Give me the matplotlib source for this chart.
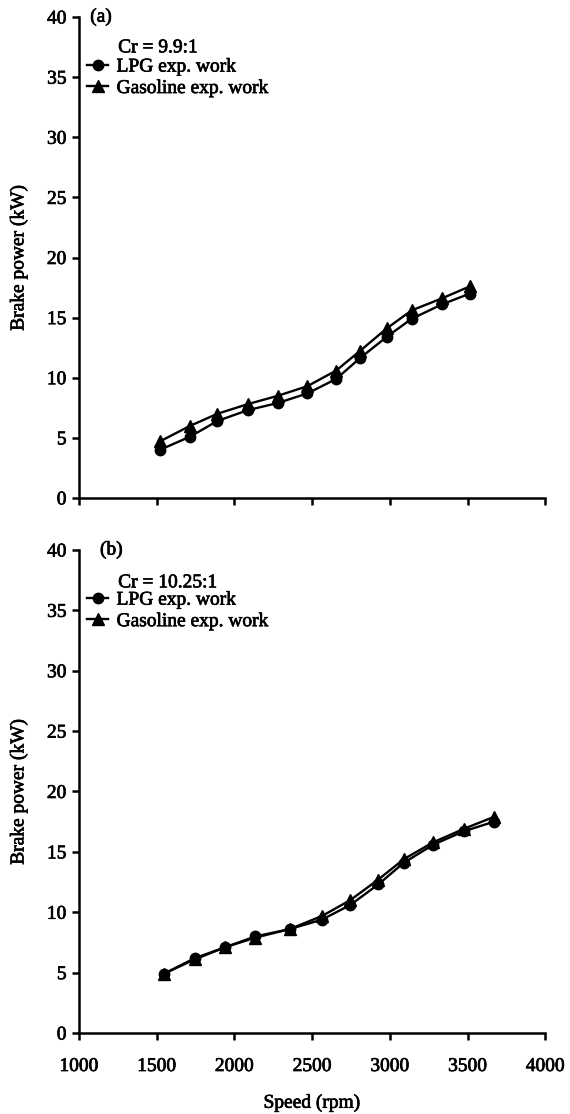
import numpy as np
import matplotlib.pyplot as plt
import matplotlib.patheffects as pe

# brake power vs speed, two compression ratios
speed_a = [1520, 1715, 1890, 2085, 2280, 2470, 2655, 2805, 2980, 3140, 3335, 3515]
lpg_a = [4.0, 5.1, 6.4, 7.3, 7.9, 8.7, 9.9, 11.6, 13.4, 14.9, 16.1, 17.0]
gas_a = [4.7, 6.0, 7.0, 7.8, 8.5, 9.3, 10.6, 12.2, 14.1, 15.6, 16.6, 17.6]

speed_b = [1545, 1745, 1940, 2135, 2355, 2565, 2745, 2925, 3090, 3280, 3475, 3670]
lpg_b = [4.9, 6.2, 7.1, 8.0, 8.6, 9.4, 10.6, 12.3, 14.1, 15.6, 16.7, 17.5]
gas_b = [4.9, 6.1, 7.1, 7.9, 8.6, 9.7, 11.0, 12.7, 14.4, 15.8, 16.9, 17.9]

xticks = [1000, 1500, 2000, 2500, 3000, 3500, 4000]
yticks = [0, 5, 10, 15, 20, 25, 30, 35, 40]

plt.rcParams['font.family'] = ['Liberation Serif', 'DejaVu Serif']
plt.rcParams['font.size'] = 14

# slightly heavier glyphs
heavy = [pe.withStroke(linewidth=0.5, foreground='black')]

fig = plt.figure(figsize=(5.7, 11.14), dpi=100)
ax1 = fig.add_axes([0.1386, 0.553, 0.818, 0.4317])
ax2 = fig.add_axes([0.1386, 0.0727, 0.818, 0.4336])

panels = [
    (ax1, speed_a, lpg_a, gas_a, '(a)', 0.024, 'Cr = 9.9:1', 0.936),
    (ax2, speed_b, lpg_b, gas_b, '(b)', 0.045, 'Cr = 10.25:1', 0.932),
]

for ax, spd, lpg, gas, tag, tag_x, cr, cr_y in panels:
    ax.plot(spd, gas, color='black', lw=1.7, marker='^', ms=8,
            label='Gasoline exp. work', zorder=3)
    ax.plot(spd, lpg, color='black', lw=1.7, marker='o', ms=7.5,
            label='LPG exp. work', zorder=3)
    ax.set_xlim(1000, 4000)
    ax.set_ylim(0, 40)
    ax.set_xticks(xticks)
    ax.set_yticks(yticks)
    ax.spines['top'].set_visible(False)
    ax.spines['right'].set_visible(False)
    ax.spines['left'].set_linewidth(1.8)
    ax.spines['bottom'].set_linewidth(1.8)
    ax.tick_params(direction='out', length=5, width=1.8, labelsize=14)
    ax.tick_params(axis='y', pad=4)
    ax.tick_params(axis='x', pad=13)
    ax.set_ylabel('Brake power (kW)', fontsize=14, labelpad=14)
    ax.text(tag_x, 1.0, tag, transform=ax.transAxes, fontsize=14,
            ha='left', va='center', path_effects=heavy)
    ax.text(0.084, cr_y, cr, transform=ax.transAxes, fontsize=14,
            ha='left', va='center', path_effects=heavy)
    h, l = ax.get_legend_handles_labels()
    leg = ax.legend(h[::-1], l[::-1], loc='upper left',
                    bbox_to_anchor=(0.018, 0.915), frameon=False,
                    fontsize=14, handlelength=1.05, handletextpad=0.45,
                    labelspacing=0.2, borderpad=0.0, borderaxespad=0.0)
    for t in leg.get_texts():
        t.set_path_effects(heavy)
    for t in ax.get_xticklabels() + ax.get_yticklabels():
        t.set_path_effects(heavy)
    ax.yaxis.label.set_path_effects(heavy)

ax1.tick_params(labelbottom=False)
ax2.set_xlabel('Speed (rpm)', fontsize=14, labelpad=14)
ax2.xaxis.label.set_path_effects(heavy)

fig.savefig('out.png', dpi=100)
